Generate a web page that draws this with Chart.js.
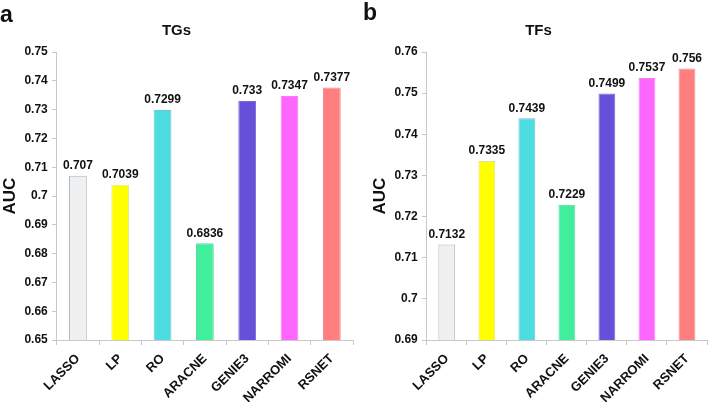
<!DOCTYPE html>
<html><head><meta charset="utf-8">
<script src="https://cdn.jsdelivr.net/npm/chart.js@4"></script>
<style>
html,body{margin:0;padding:0;background:#fff;}
#wrap{position:relative;width:708px;height:402px;font-family:"Liberation Sans",Arial,sans-serif;}
.panel{position:absolute;top:0;width:354px;height:402px;}
.letter{position:absolute;font-weight:bold;font-size:23px;color:#111;line-height:1;}
</style></head>
<body>
<div id="wrap">
  <div class="panel" style="left:0"><canvas id="c1" width="354" height="402"></canvas></div>
  <div class="panel" style="left:354px"><canvas id="c2" width="354" height="402"></canvas></div>
  <div class="letter" style="left:0px;top:3px">a</div>
  <div class="letter" style="left:363px;top:1px">b</div>
</div>
<script>
const categories = ["LASSO","LP","RO","ARACNE","GENIE3","NARROMI","RSNET"];
const tgValues = [0.707,0.7039,0.7299,0.6836,0.733,0.7347,0.7377];
const tfValues = [0.7132,0.7335,0.7439,0.7229,0.7499,0.7537,0.756];
const barColors = ["#F0F0F0","#FFFF00","#4DDDE0","#40EE9C","#6650DA","#FF66FF","#FF7F80"];
const borderColors = ["#A8B8C8","#E0E0A0","#6CC8D0","#60D8A0","#7C6CD0","#F080F0","#F08A90"];
const tgTitle = "TGs", tfTitle = "TFs";

const FONT = "'Liberation Sans', Arial, sans-serif";

const labelPlugin = {
  id:'valueLabels',
  afterDatasetsDraw(chart){
    const ctx = chart.ctx;
    const meta = chart.getDatasetMeta(0);
    const data = chart.data.datasets[0].data;
    ctx.save();
    ctx.font = "bold 12px " + FONT;
    ctx.fillStyle = "#111";
    ctx.textAlign = "center";
    ctx.textBaseline = "bottom";
    meta.data.forEach((bar,i)=>{
      ctx.fillText(String(data[i]), bar.x, bar.y - 4);
    });
    ctx.restore();
  }
};

function makeChart(id, title, values, min, max, padLeft){
  new Chart(document.getElementById(id), {
    type:'bar',
    data:{labels:categories, datasets:[{data:values, backgroundColor:barColors, borderColor:borderColors, borderWidth:1, barPercentage:0.42, categoryPercentage:1}]},
    options:{
      responsive:false, animation:false, devicePixelRatio:1,
      layout:{padding:{left:padLeft, right:1, top:22, bottom:-10}},
      plugins:{
        legend:{display:false}, tooltip:{enabled:false},
        title:{display:true, text:title, color:'#111', font:{family:FONT, size:15, weight:'bold'}, padding:{top:0,bottom:12}}
      },
      scales:{
        x:{
          grid:{drawOnChartArea:false, drawTicks:true, tickLength:5, color:'#C8C8C8', offset:true},
          border:{color:'#C8C8C8'},
          ticks:{minRotation:45, maxRotation:45, color:'#111', font:{family:FONT, size:13, weight:'bold'}, padding:6}
        },
        y:{
          min:min, max:max,
          grid:{drawOnChartArea:false, drawTicks:true, tickLength:5, color:'#C8C8C8'},
          border:{color:'#C8C8C8'},
          ticks:{stepSize:0.01, color:'#111', font:{family:FONT, size:12, weight:'bold'}, padding:4,
            callback:(v)=>String(Number(Number(v).toFixed(2)))},
          title:{display:true, text:'AUC', color:'#111', font:{family:FONT, size:17, weight:'bold'}, padding:{top:0,bottom:0}}
        }
      }
    },
    plugins:[labelPlugin]
  });
}
makeChart('c1', tgTitle, tgValues, 0.65, 0.75, 0);
makeChart('c2', tfTitle, tfValues, 0.69, 0.76, 16);
</script>
</body></html>
